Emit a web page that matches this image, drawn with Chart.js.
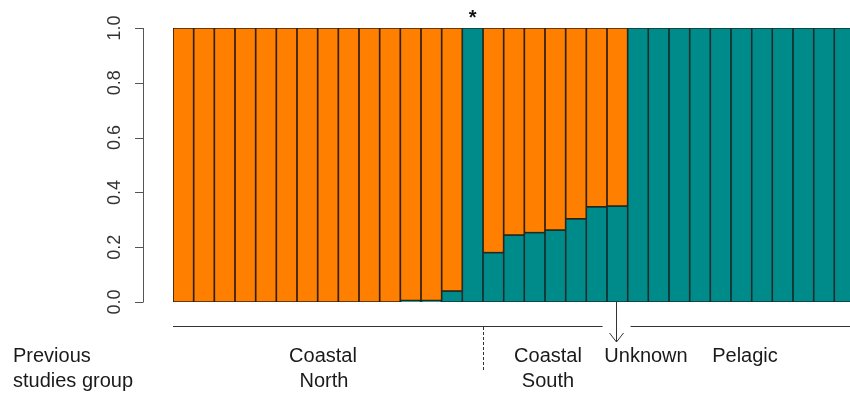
<!DOCTYPE html>
<html>
<head>
<meta charset="utf-8">
<script src="https://cdn.jsdelivr.net/npm/chart.js@4"></script>
<style>
  html, body { margin: 0; padding: 0; background: #fff; }
  #wrap { width: 850px; height: 401px; overflow: hidden; }
</style>
</head>
<body>
<div id="wrap"><canvas id="myChart" width="870" height="401"></canvas></div>
<script>
// one bar per individual, membership proportion for each cluster
const samples = ['1','2','3','4','5','6','7','8','9','10','11','12','13','14','15','16','17',
    '18','19','20','21','22','23','24','25','26','27','28','29','30','31','32','33'];
const pelagicShare = [0, 0, 0, 0, 0, 0, 0, 0, 0, 0, 0, 0.005, 0.005, 0.04, 1, 0.18, 0.244,
    0.253, 0.262, 0.303, 0.347, 0.35, 1, 1, 1, 1, 1, 1, 1, 1, 1, 1, 1];
const coastalShare = [1, 1, 1, 1, 1, 1, 1, 1, 1, 1, 1, 0.995, 0.995, 0.96, 0, 0.82, 0.756,
    0.747, 0.738, 0.697, 0.653, 0.65, 0, 0, 0, 0, 0, 0, 0, 0, 0, 0, 0];
const yTicks = [0, 0.2, 0.4, 0.6, 0.8, 1.0];

// previous studies grouping (sample indexes)
const markedSample = 14;      // asterisk
const splitAfter = 14;        // dashed line between Coastal North and Coastal South
const unknownSample = 21;     // arrow

const font = '"Liberation Sans", Arial, sans-serif';

const annotations = {
    id: 'annotations',
    afterDraw(chart) {
        const ctx = chart.ctx;
        const x = chart.scales.x, y = chart.scales.y;
        const area = chart.chartArea;
        const half = (x.getPixelForValue(1) - x.getPixelForValue(0)) / 2;
        ctx.save();

        // R style y axis
        const axisX = area.left - 30;
        ctx.strokeStyle = '#555';
        ctx.lineWidth = 1;
        ctx.beginPath();
        ctx.moveTo(axisX + 0.5, y.getPixelForValue(0));
        ctx.lineTo(axisX + 0.5, y.getPixelForValue(1));
        yTicks.forEach(v => {
            const py = Math.round(y.getPixelForValue(v)) + 0.5;
            ctx.moveTo(axisX + 0.5, py);
            ctx.lineTo(axisX - 8, py);
        });
        ctx.stroke();
        ctx.fillStyle = '#333';
        ctx.font = '18px ' + font;
        ctx.textAlign = 'center';
        ctx.textBaseline = 'middle';
        yTicks.forEach(v => {
            ctx.save();
            ctx.translate(axisX - 28, y.getPixelForValue(v));
            ctx.rotate(-Math.PI / 2);
            ctx.fillText(v.toFixed(1), 0, 0);
            ctx.restore();
        });

        // asterisk
        ctx.fillStyle = '#111';
        ctx.font = 'bold 20px ' + font;
        ctx.fillText('*', x.getPixelForValue(markedSample), 18);

        // group lines
        const lineY = 326.5;
        const arrowX = Math.round(x.getPixelForValue(unknownSample)) - 0.5;
        ctx.strokeStyle = '#333';
        ctx.beginPath();
        ctx.moveTo(x.getPixelForValue(0) - half, lineY);
        ctx.lineTo(arrowX - 14, lineY);
        ctx.moveTo(arrowX + 14, lineY);
        ctx.lineTo(area.right + 20, lineY);
        ctx.stroke();

        // dashed split
        const splitX = Math.round(x.getPixelForValue(splitAfter) + half) + 0.5;
        ctx.setLineDash([3, 2]);
        ctx.beginPath();
        ctx.moveTo(splitX, 327);
        ctx.lineTo(splitX, 372);
        ctx.stroke();
        ctx.setLineDash([]);

        // arrow to the unknown sample
        ctx.beginPath();
        ctx.moveTo(arrowX, y.getPixelForValue(0));
        ctx.lineTo(arrowX, 342);
        ctx.moveTo(arrowX - 7, 333);
        ctx.lineTo(arrowX, 342);
        ctx.lineTo(arrowX + 7, 333);
        ctx.stroke();

        // group names
        ctx.fillStyle = '#1a1a1a';
        ctx.font = '20px ' + font;
        ctx.textBaseline = 'alphabetic';
        ctx.textAlign = 'left';
        ctx.fillText('Previous', 13, 362);
        ctx.fillText('studies group', 13, 387);
        ctx.textAlign = 'center';
        ctx.fillText('Coastal', 323, 362);
        ctx.fillText('North', 324, 387);
        ctx.fillText('Coastal', 548, 362);
        ctx.fillText('South', 548, 387);
        ctx.fillText('Unknown', 646, 362);
        ctx.fillText('Pelagic', 745, 362);
        ctx.restore();
    }
};

const ctx = document.getElementById('myChart');
new Chart(ctx, {
    type: 'bar',
    data: {
        labels: samples,
        datasets: [{
            label: 'Pelagic',
            data: pelagicShare,
            backgroundColor: '#008b8b',
            borderColor: '#173030',
            borderWidth: 1.2,
            borderSkipped: false
        }, {
            label: 'Coastal',
            data: coastalShare,
            backgroundColor: '#ff8000',
            borderColor: '#35200c',
            borderWidth: 1.2,
            borderSkipped: false
        }]
    },
    options: {
        responsive: false,
        animation: false,
        layout: {
            padding: { left: 173, top: 28, right: 15, bottom: 99 }
        },
        datasets: {
            bar: { barPercentage: 1, categoryPercentage: 1 }
        },
        scales: {
            x: { stacked: true, display: false },
            y: { stacked: true, display: false, min: 0, max: 1 }
        },
        plugins: {
            legend: { display: false },
            tooltip: { enabled: false }
        }
    },
    plugins: [annotations]
});
</script>
</body>
</html>
